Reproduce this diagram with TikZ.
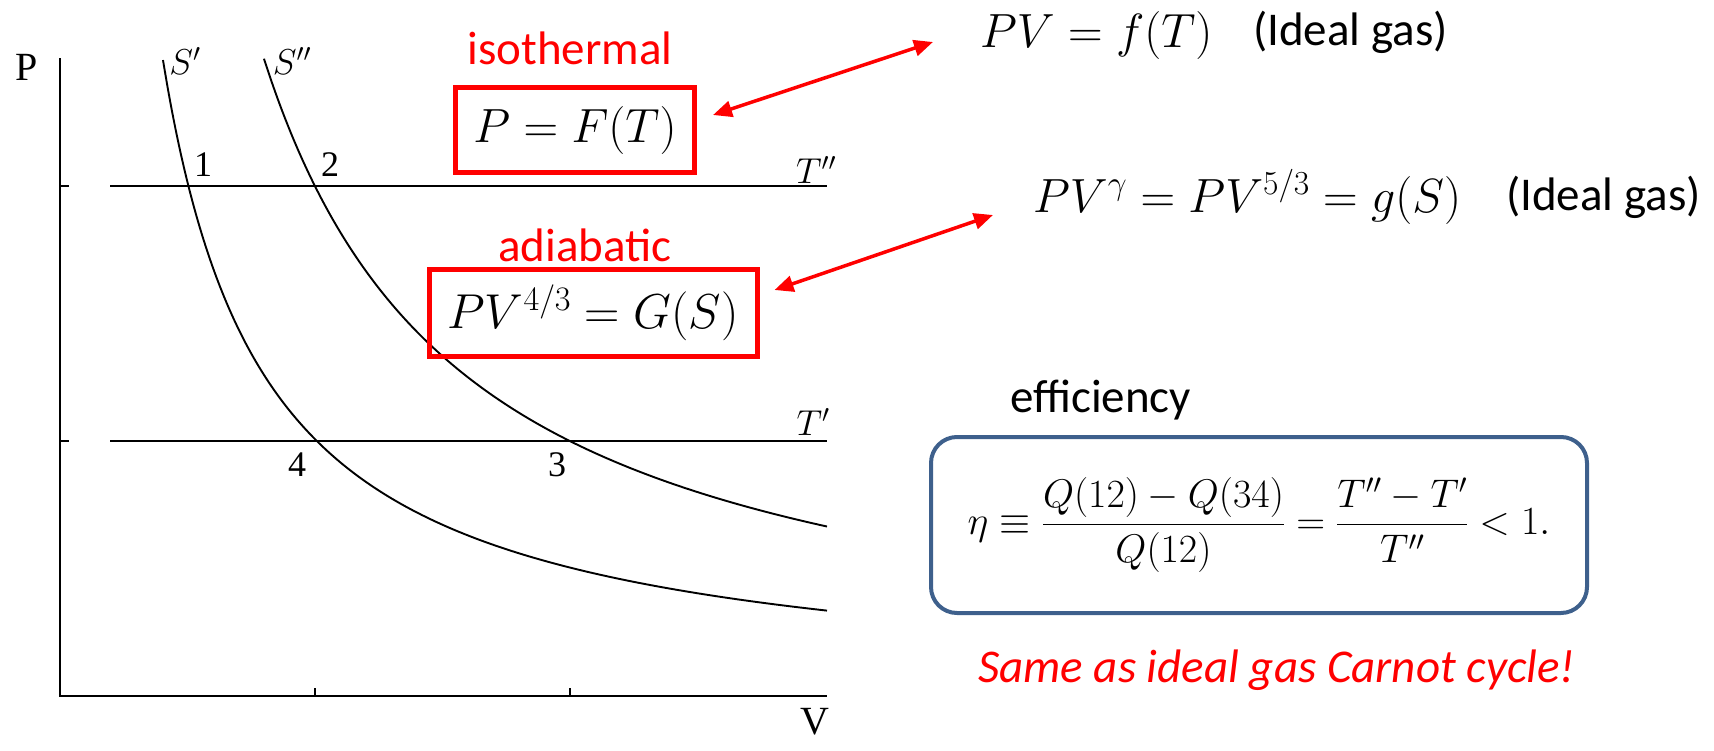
\RequirePackage{fix-cm}
\documentclass[tikz,border=0pt]{standalone}
\usepackage{amsmath}
\usepackage{fontspec}
\usepackage{tikz}
\usetikzlibrary{arrows.meta,positioning}
\newfontfamily\calibri{Carlito}
\newfontfamily\timesf{Liberation Serif}
\definecolor{MarkRed}{RGB}{255,0,0}
\definecolor{FrameBlue}{RGB}{62,96,140}
\newcommand{\fsz}[1]{\fontsize{#1}{#1}\selectfont}

\begin{document}
\begin{tikzpicture}[
  x=1pt, y=-1pt,
  axis/.style={line width=2.5pt},
  iso/.style={line width=2.4pt},
  adia/.style={line width=1.9pt},
  tag/.style={inner sep=0pt,font=\timesf\fsz{36}},
  formula/.style={inner sep=0pt,font=\fsz{48}},
  note/.style={inner sep=0pt,font=\calibri\fsz{47}},
  redbox/.style={draw=MarkRed,line width=5pt,inner sep=0pt},
  link/.style={MarkRed,line width=3.5pt,{Triangle[length=19pt,width=16pt]}-{Triangle[length=19pt,width=16pt]}}
]
\useasboundingbox (0,0) rectangle (1714,750);
\draw[axis] (60,58) -- (60,696) -- (827,696);
\foreach \y in {186,441} \draw[axis] (60,\y) -- (69,\y);
\foreach \x in {315,570} \draw[axis] (\x,696) -- (\x,688);
\draw[iso] (110,186) -- (827,186);
\draw[iso] (110,441) -- (827,441);
\draw[adia] plot[domain=163:827,samples=150,smooth] (\x,{696-655/(\x-60)*100});
\draw[adia] plot[domain=264:827,samples=150,smooth] (\x,{696-1300/(\x-60)*100});
\node[tag,font=\timesf\fsz{40}] (plab) at (27,67) {P};
\node[tag,font=\timesf\fsz{40}] (vlab) at (815,722) {V};
\node[tag] (sone) at (185,61) {$S'$};
\node[tag] (stwo) at (292,61) {$S''$};
\node[tag] (thot) at (816,170) {$T''$};
\node[tag] (tcold) at (813,422) {$T'$};
\node[tag] (pone) at (203,165) {1};
\node[tag] (ptwo) at (330,165) {2};
\node[tag] (pthree) at (557,465) {3};
\node[tag] (pfour) at (297,465) {4};
\node[redbox,minimum width=239pt,minimum height=85pt,font=\fsz{48}] (isobox) at (575,130) {$P=F(T)$};
\node[redbox,minimum width=328pt,minimum height=87pt,font=\fsz{49}] (adbox) at (593,313) {$PV^{4/3}=G(S)$};
\node[note,text=MarkRed,above=20pt of isobox,xshift=-5pt] (isolab) {isothermal};
\node[note,text=MarkRed,above=5pt of adbox,xshift=-8pt] (adlab) {adiabatic};
\node[formula,anchor=base west] (pvf) at (980,47) {$PV=f(T)$};
\node[note,anchor=base west] (gasone) at (1253,45) {(Ideal gas)};
\node[formula,anchor=base west] (pvg) at (1033,212) {$PV^\gamma=PV^{5/3}=g(S)$};
\node[note,anchor=base west] (gastwo) at (1506,210) {(Ideal gas)};
\node[draw=FrameBlue,line width=4pt,rounded corners=26pt,minimum width=656pt,minimum height=176pt,inner sep=0pt,font=\fsz{40}] (effbox) at (1259,525) {$\displaystyle\eta\equiv\frac{Q(12)-Q(34)}{Q(12)}=\frac{T''-T'}{T''}<1.$};
\node[note,anchor=base west] (efflab) at (1010,412) {efficiency};
\node[note,text=MarkRed,anchor=base west,font=\calibri\itshape\fsz{47}] (samelab) at (978,682) {Same as ideal gas Carnot cycle!};
\draw[link] ([shift={(16,-15)}]isobox.east) -- ([shift={(-47,-5)}]pvf.base west);
\draw[link] ([shift={(15,-23)}]adbox.east) -- ([shift={(-40,3)}]pvg.base west);
\end{tikzpicture}
\end{document}
